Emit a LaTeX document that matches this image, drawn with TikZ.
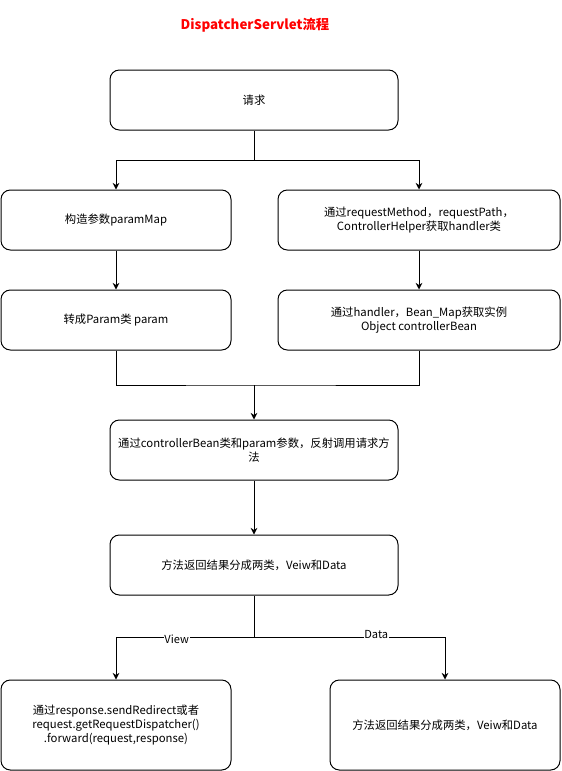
\documentclass[tikz,border=0pt]{standalone}
\usepackage{fontspec}
\setmainfont{Noto Sans CJK SC}
\usetikzlibrary{arrows.meta}
\begin{document}
\begin{tikzpicture}[x=0.75pt,y=-0.75pt,
  box/.style={draw, line width=0.75pt, rounded corners=7pt, align=center, inner sep=0pt, font=\fontsize{8.5}{10.5}\selectfont},
  conn/.style={line width=0.75pt},
  arr/.style={line width=0.75pt, -{Stealth[length=5pt,width=5pt]}},
  lbl/.style={fill=white, inner sep=0.5pt, font=\fontsize{8.3}{10}\selectfont}]
\useasboundingbox (0,0) rectangle (561,771);
\node[text=red, font=\bfseries\fontsize{10}{12}\selectfont] (title) at (255,25) {DispatcherServlet流程};
\node[box, minimum width=288*0.75pt, minimum height=60*0.75pt] (req) at (254,100) {请求};
\node[box, minimum width=230*0.75pt, minimum height=60*0.75pt] (l1) at (116,220) {构造参数paramMap};
\node[box, minimum width=282*0.75pt, minimum height=60*0.75pt] (r1) at (419,220) {通过requestMethod，requestPath，\\ControllerHelper获取handler类};
\node[box, minimum width=230*0.75pt, minimum height=60*0.75pt] (l2) at (116,320) {转成Param类 param};
\node[box, minimum width=282*0.75pt, minimum height=60*0.75pt] (r2) at (419,320) {通过handler，Bean\_Map获取实例\\Object controllerBean};
\node[box, minimum width=288*0.75pt, minimum height=60*0.75pt] (mid) at (254,450) {通过controllerBean类和param参数，反射调用请求方\\法};
\node[box, minimum width=288*0.75pt, minimum height=60*0.75pt] (ret) at (254,565) {方法返回结果分成两类，Veiw和Data};
\node[box, minimum width=230*0.75pt, minimum height=90*0.75pt] (bl) at (116,725) {通过response.sendRedirect或者\\request.getRequestDispatcher()\\.forward(request,response)};
\node[box, minimum width=230*0.75pt, minimum height=90*0.75pt] (br) at (445,725) {方法返回结果分成两类，Veiw和Data};

\coordinate (s1) at (254,160);
\coordinate (s2) at (254,385);
\coordinate (s3) at (254,637);
\draw[conn] (req.south) -- (s1);
\draw[arr] (s1) -| (l1.north);
\draw[arr] (s1) -| (r1.north);
\draw[arr] (l1) -- (l2);
\draw[arr] (r1) -- (r2);
\draw[conn] (l2.south) |- (s2) -| (r2.south);
\draw[arr] (s2) -- (mid.north);
\draw[arr] (mid) -- (ret);
\draw[conn] (ret.south) -- (s3);
\draw[arr] (s3) -| (bl.north) node[pos=0.28, lbl, yshift=-2pt] (vl) {View};
\draw[arr] (s3) -| (br.north) node[pos=0.32, lbl, yshift=1.5pt] (dl) {Data};
\end{tikzpicture}
\end{document}
